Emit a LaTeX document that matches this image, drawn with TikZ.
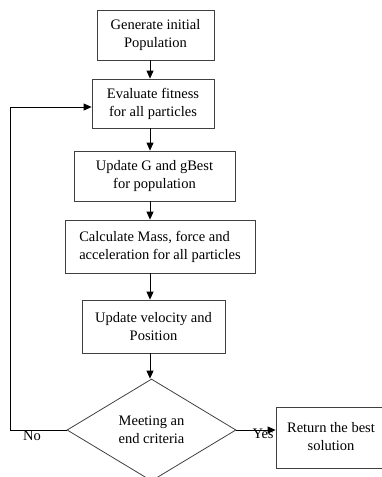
\documentclass[tikz,border=0pt]{standalone}
\usepackage{fontspec}
\setmainfont{Liberation Serif}
\usetikzlibrary{arrows.meta}
\usetikzlibrary{shapes.geometric}

\tikzset{
  stepbox/.style={draw=black!75, line width=0.8pt, align=center, inner sep=0pt},
  flow/.style={-{Triangle[length=8pt,width=7pt]}, line width=0.8pt},
}

\begin{document}
\begin{tikzpicture}[x=1pt, y=-1pt, font=\fontsize{14.5}{18}\selectfont]
    \useasboundingbox (0,0) rectangle (382,477);
    \node[stepbox, minimum width=117pt, minimum height=50pt] (init) at (155.5,35) {Generate initial\\Population};
    \node[stepbox, minimum width=122pt, minimum height=49pt] (eval) at (153,103.5) {Evaluate fitness\\for all particles};
    \node[stepbox, minimum width=161pt, minimum height=50pt] (gbest) at (154.5,176) {Update G and gBest\\for population};
    \node[stepbox, align=left, minimum width=190pt, minimum height=53pt] (mass) at (160,246.5) {Calculate Mass, force and\\acceleration for all particles};
    \node[stepbox, minimum width=143pt, minimum height=53pt] (move) at (153.5,326.5) {Update velocity and\\Position};
    \node[stepbox, diamond, aspect=1.66, minimum width=169pt, minimum height=102pt] (test) at (151.5,430) {Meeting an\\end criteria};
    \node[stepbox, minimum width=110pt, minimum height=61pt] (best) at (331,437.5) {\raisebox{5pt}{\begin{tabular}{@{}c@{}}Return the best\\solution\end{tabular}}};
    \coordinate (arrowx) at (150,0);
    \coordinate (back) at (10,107);
    % main line
    \draw[flow] (init.south -| arrowx) -- (eval.north -| arrowx);
    \draw[flow] (eval.south -| arrowx) -- (gbest.north -| arrowx);
    \draw[flow] (gbest.south -| arrowx) -- (mass.north -| arrowx);
    \draw[flow] (mass.south -| arrowx) -- (move.north -| arrowx);
    \draw[flow] (move.south -| arrowx) -- (test.north -| arrowx);
    % exits
    \draw[flow] (test.east) -- (test.east -| best.west) node[pos=0.68, below=-5pt]{Yes};
    \draw[flow] (test.west) -| (back) -- (back -| eval.west);
    \node (no) at (32,436) {No};
\end{tikzpicture}
\end{document}
